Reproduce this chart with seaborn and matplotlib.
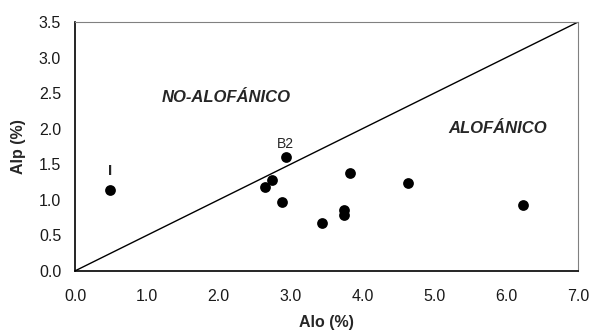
import numpy as np
import pandas as pd
import seaborn as sns
import matplotlib
matplotlib.use("Agg")
import matplotlib.pyplot as plt

# data
alo = [0.49, 2.93, 2.65, 2.74, 2.88, 3.83, 4.64, 3.44, 3.75, 3.75, 6.24]
alp = [1.14, 1.60, 1.18, 1.28, 0.97, 1.38, 1.23, 0.68, 0.86, 0.79, 0.92]
line_x = [0.0, 7.0]
line_y = [0.0, 3.5]
x_ticks = [0, 1, 2, 3, 4, 5, 6, 7]
y_ticks = [0.0, 0.5, 1.0, 1.5, 2.0, 2.5, 3.0, 3.5]

df = pd.DataFrame({"Alo": alo, "Alp": alp})

sns.set_style("white")
plt.rcParams["font.family"] = ["Liberation Sans", "DejaVu Sans"]

fig = plt.figure(figsize=(5.91, 3.34), dpi=100)
ax = fig.add_axes([0.127, 0.189, 0.851, 0.745])

sns.lineplot(x=line_x, y=line_y, color="black", linewidth=1.0, ax=ax)
sns.scatterplot(data=df, x="Alo", y="Alp", color="black", s=60,
                edgecolor="black", linewidth=0, ax=ax, zorder=3)

ax.set_xlim(0, 7)
ax.set_ylim(0, 3.5)
ax.set_xticks(x_ticks)
ax.set_yticks(y_ticks)
ax.set_xticklabels([f"{v:.1f}" for v in x_ticks], fontsize=11.5)
ax.set_yticklabels([f"{v:.1f}" for v in y_ticks], fontsize=11.5)
ax.tick_params(direction="out", length=5, width=1, color="black",
               labelcolor="#1a1a1a")
ax.tick_params(axis="x", pad=8)
ax.tick_params(axis="y", pad=5)

for side in ["left", "bottom"]:
    ax.spines[side].set_color("black")
    ax.spines[side].set_linewidth(1.2)
for side in ["top", "right"]:
    ax.spines[side].set_color("#808080")
    ax.spines[side].set_linewidth(0.8)

ax.set_xlabel("Alo (%)", fontsize=11.5, fontweight="bold", labelpad=8)
ax.set_ylabel("Alp (%)", fontsize=11.5, fontweight="bold", labelpad=9)

ax.text(2.10, 2.44, "NO-ALOFÁNICO", fontsize=12, fontweight="bold",
        fontstyle="italic", ha="center", va="center")
ax.text(5.88, 2.0, "ALOFÁNICO", fontsize=12, fontweight="bold",
        fontstyle="italic", ha="center", va="center")
ax.text(2.93, 1.79, "B2", fontsize=10, ha="center", va="center")
ax.text(0.49, 1.41, "I", fontsize=11, fontweight="bold", ha="center", va="center")

fig.savefig("out.png", dpi=100)
